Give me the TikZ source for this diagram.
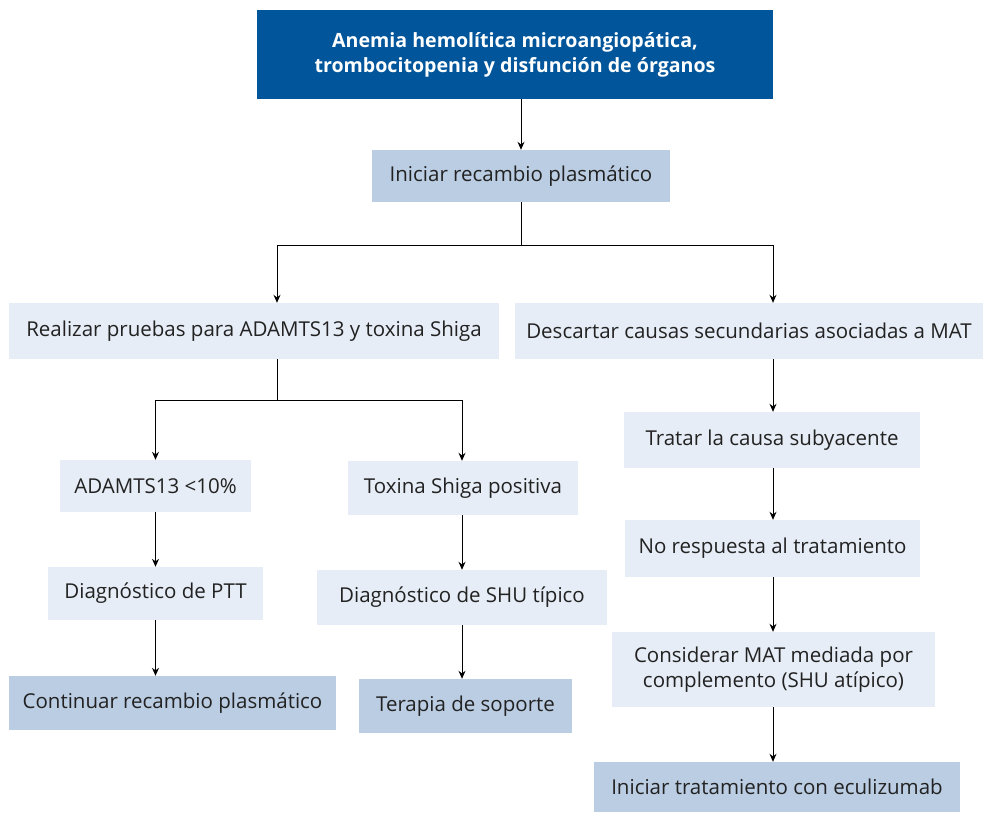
\documentclass[tikz,border=0pt]{standalone}
\usepackage{fontspec}
\setmainfont{Open Sans}
\usetikzlibrary{arrows.meta}
\definecolor{azulosc}{HTML}{00559B}
\definecolor{azulmed}{HTML}{BBCDE3}
\definecolor{azulcla}{HTML}{E6EDF6}
\definecolor{texto}{HTML}{222222}
\tikzset{
  caja/.style={rectangle, inner sep=0pt, align=center, text=texto,
    font=\fontsize{20.5}{25}\selectfont},
  cajaosc/.style={caja, fill=azulosc, text=white, font=\fontsize{19.6}{25}\selectfont\bfseries},
  cajamed/.style={caja, fill=azulmed},
  cajacla/.style={caja, fill=azulcla},
  flecha/.style={-{Stealth[length=8pt,width=7pt]}, line width=1pt},
  linea/.style={line width=1pt}
}
\begin{document}
\begin{tikzpicture}[x=1pt,y=-1pt]
  \useasboundingbox (0,0) rectangle (984,813);
  % cajas
  \node[cajaosc, minimum width=516, minimum height=89] (inicio) at (515,54.5)
    {Anemia hemolítica microangiopática,\\trombocitopenia y disfunción de órganos};
  \node[cajamed, minimum width=298, minimum height=52] (recambio) at (521,176) {Iniciar recambio plasmático};
  \node[cajacla, minimum width=490, minimum height=56] (pruebas) at (254,331) {Realizar pruebas para ADAMTS13 y toxina Shiga};
  \node[cajacla, minimum width=468, minimum height=56] (descartar) at (749,331) {Descartar causas secundarias asociadas a MAT};
  \node[cajacla, minimum width=191, minimum height=52] (adamts) at (155.5,486) {ADAMTS13 <10\%};
  \node[cajacla, minimum width=230, minimum height=54] (toxina) at (463,488) {Toxina Shiga positiva};
  \node[cajacla, minimum width=215, minimum height=53] (ptt) at (155.5,593.5) {Diagnóstico de PTT};
  \node[cajacla, minimum width=290, minimum height=55] (shu) at (462,597.5) {Diagnóstico de SHU típico};
  \node[cajamed, minimum width=327, minimum height=54] (continuar) at (172.5,703) {Continuar recambio plasmático};
  \node[cajamed, minimum width=213, minimum height=54] (soporte) at (465.5,706) {Terapia de soporte};
  \node[cajacla, minimum width=296, minimum height=56] (causa) at (772,440) {Tratar la causa subyacente};
  \node[cajacla, minimum width=295, minimum height=57] (norespuesta) at (772.5,548.5) {No respuesta al tratamiento};
  \node[cajacla, minimum width=323, minimum height=75] (considerar) at (773.5,669.5)
    {Considerar MAT mediada por\\complemento (SHU atípico)};
  \node[cajamed, minimum width=366, minimum height=50] (eculizumab) at (777,787) {Iniciar tratamiento con eculizumab};
  % puntos de ramificacion
  \coordinate (ramaA) at (521,245);
  \coordinate (ramaAi) at (277,245);
  \coordinate (ramaAd) at (773,245);
  \coordinate (ramaB) at (277,400);
  \coordinate (ramaBi) at (155.5,400);
  \coordinate (ramaBd) at (462,400);
  % conectores
  \draw[flecha] (inicio.south -| recambio) -- (recambio.north);
  \draw[linea] (recambio.south) -- (ramaA);
  \draw[linea] (ramaAi) -- (ramaAd);
  \draw[flecha] (ramaAi) -- (pruebas.north -| ramaAi);
  \draw[flecha] (ramaAd) -- (descartar.north -| ramaAd);
  \draw[linea] (pruebas.south -| ramaB) -- (ramaB);
  \draw[linea] (ramaBi) -- (ramaBd);
  \draw[flecha] (ramaBi) -- (adamts.north);
  \draw[flecha] (ramaBd) -- (toxina.north -| ramaBd);
  \draw[flecha] (adamts.south) -- (ptt.north);
  \draw[flecha] (ptt.south) -- (continuar.north -| ptt);
  \draw[flecha] (toxina.south -| shu) -- (shu.north);
  \draw[flecha] (shu.south) -- (soporte.north -| shu);
  \draw[flecha] (descartar.south -| ramaAd) -- (causa.north -| ramaAd);
  \draw[flecha] (causa.south -| ramaAd) -- (norespuesta.north -| ramaAd);
  \draw[flecha] (norespuesta.south -| ramaAd) -- (considerar.north -| ramaAd);
  \draw[flecha] (considerar.south -| ramaAd) -- (eculizumab.north -| ramaAd);
\end{tikzpicture}
\end{document}
